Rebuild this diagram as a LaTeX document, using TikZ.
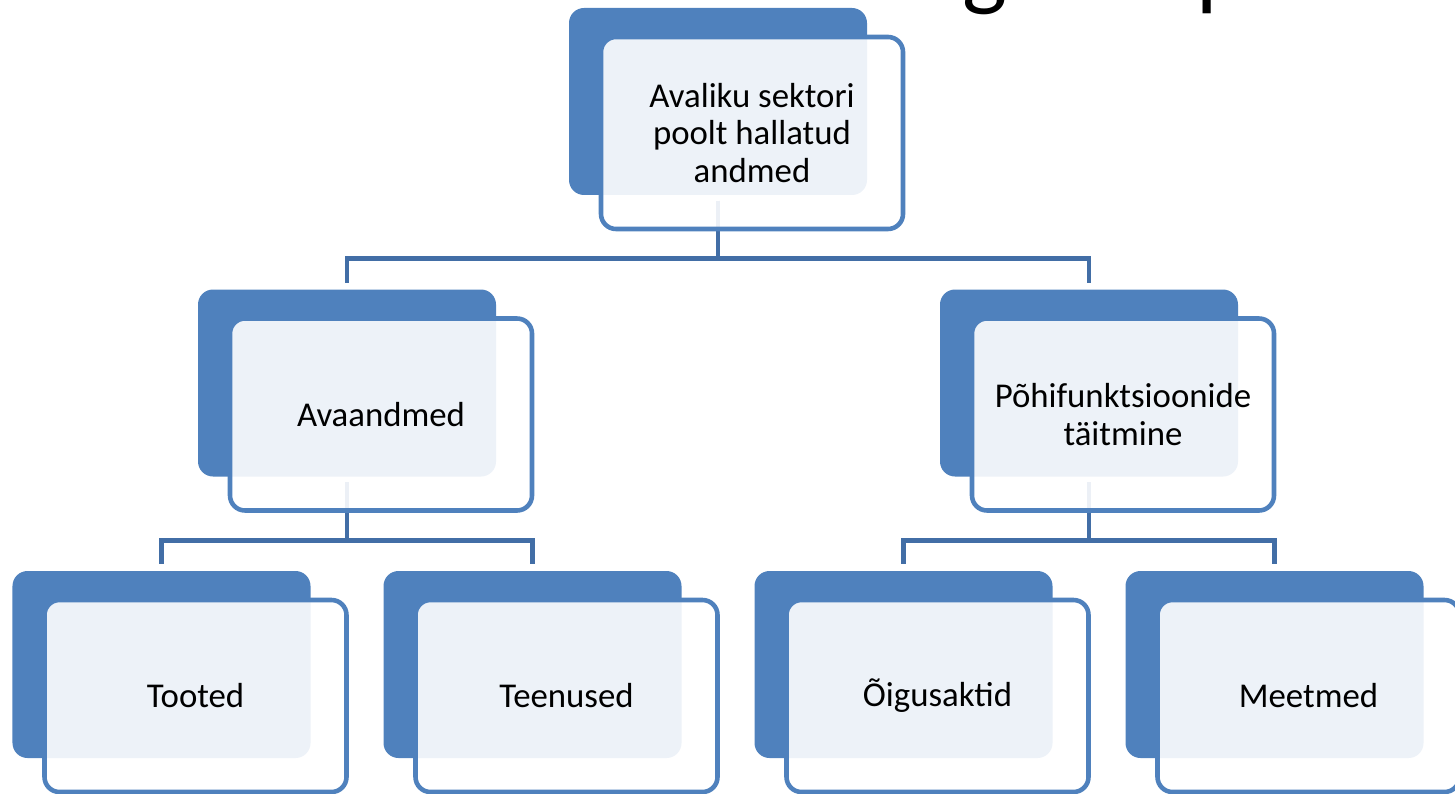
\documentclass[tikz,border=0pt]{standalone}
\usepackage{fontspec}
\setmainfont{Carlito}
\usetikzlibrary{trees}
\definecolor{boxblue}{HTML}{4F81BD}
\definecolor{linkblue}{HTML}{426EA6}

\begin{document}
\begin{tikzpicture}[level distance=28.15mm,
    edge from parent path={([yshift=-0.5mm]\tikzparentnode.south) -- ++(0,-5.8mm) -| ([yshift=0.6mm]\tikzchildnode.north)}]
    \useasboundingbox (0,0) rectangle (14.55,-7.94);
    \clip (0,0) rectangle (14.55,-7.94);
    \tikzstyle{level 1}=[sibling distance=74.2mm]
    \tikzstyle{level 2}=[sibling distance=37.1mm]
    \tikzstyle{back}=[fill=boxblue, rounded corners=1.5mm, minimum width=29.8mm, minimum height=18.7mm, inner sep=0pt]
    \tikzstyle{front}=[draw=boxblue, line width=1.3pt, fill=white, fill opacity=0.9, text opacity=1,
      rounded corners=1.5mm, minimum width=30.2mm, minimum height=19.2mm, inner sep=0pt,
      align=center, font=\fontsize{9.9pt}{10.7pt}\selectfont]
    \tikzstyle{link}=[draw=linkblue, line width=1.4pt]
    \node[anchor=base west, inner sep=0pt, font=\fontsize{27pt}{30pt}\selectfont] (title) at (-1.34,0.015)
      {Mida avalik sektor hakkab tegema peamiselt};
    \node[back] (andmed) at (7.18,-1.015) {}
    child{node[back] (avaandmed) {}
      child{node[back] (tooted) {} edge from parent[link]}
      child{node[back] (teenused) {} edge from parent[link]}
      edge from parent[link]
    }
    child{node[back] (pohifunk) {}
      child{node[back] (oigus) {} edge from parent[link]}
      child{node[back] (meetmed) {} edge from parent[link]}
      edge from parent[link]
    };
    \node[front] (andmedT) at ([shift={(3.4mm,-3.15mm)}]andmed.center) {Avaliku sektori\\poolt hallatud\\andmed};
    \node[front] (avaandmedT) at ([shift={(3.4mm,-3.15mm)}]avaandmed.center) {Avaandmed};
    \node[front] (pohifunkT) at ([shift={(3.4mm,-3.15mm)}]pohifunk.center) {Põhifunktsioonide\\täitmine};
    \node[front] (tootedT) at ([shift={(3.4mm,-3.15mm)}]tooted.center) {Tooted};
    \node[front] (teenusedT) at ([shift={(3.4mm,-3.15mm)}]teenused.center) {Teenused};
    \node[front] (oigusT) at ([shift={(3.4mm,-3.15mm)}]oigus.center) {Õigusaktid};
    \node[front] (meetmedT) at ([shift={(3.4mm,-3.15mm)}]meetmed.center) {Meetmed};
\end{tikzpicture}
\end{document}
